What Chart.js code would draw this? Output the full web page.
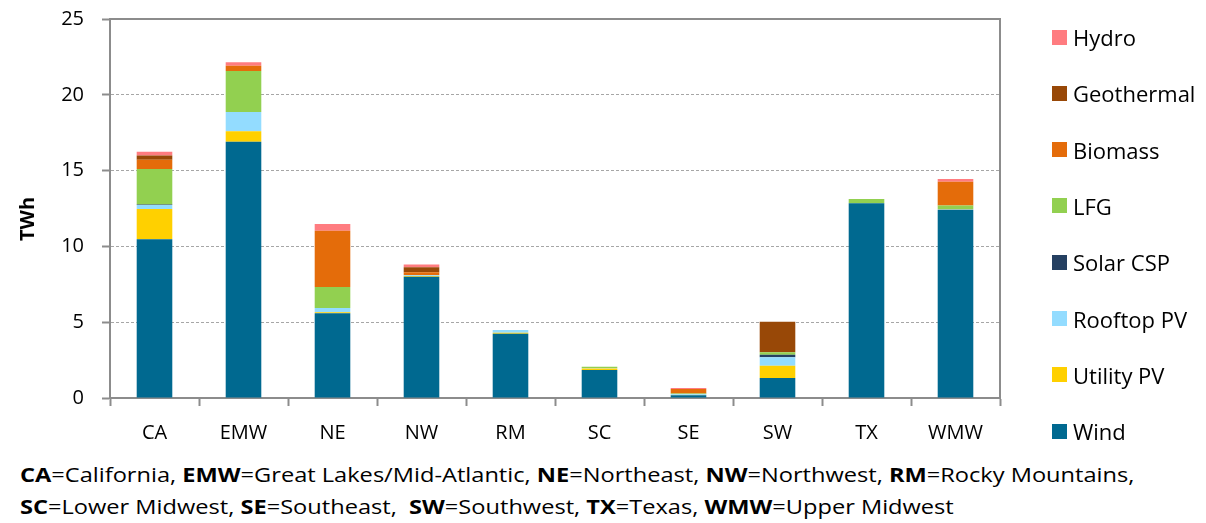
<!DOCTYPE html>
<html><head><meta charset="utf-8">
<script src="https://cdn.jsdelivr.net/npm/chart.js@4.4.0/dist/chart.umd.min.js"></script>
<style>
html,body{margin:0;padding:0;background:#fff;}
#wrap{position:relative;width:1206px;height:523px;font-family:'Open Sans',sans-serif;color:#000;overflow:hidden;}
#cv{position:absolute;left:0;top:0;}
.li{position:absolute;left:1052px;white-space:nowrap;font-size:22px;line-height:30px;height:30px;display:flex;align-items:center;}
.sw{width:15px;height:15px;margin-right:6px;flex:none;}
.note{position:absolute;left:20px;font-size:20px;line-height:24px;white-space:nowrap;transform-origin:0 0;transform:scaleX(1.18);}
#ytitle{position:absolute;left:27px;top:219px;width:80px;height:24px;margin-left:-40px;margin-top:-12px;text-align:center;font-size:20px;line-height:24px;font-weight:bold;transform:rotate(-90deg);}
</style></head>
<body>
<div id="wrap">
<canvas id="cv" width="1206" height="455"></canvas>
<div id="ytitle">TWh</div>
<div id="legend"></div>
<div class="note" style="top:463px"><b>CA</b>=California, <b>EMW</b>=Great Lakes/Mid-Atlantic, <b>NE</b>=Northeast, <b>NW</b>=Northwest, <b>RM</b>=Rocky Mountains,</div>
<div class="note" style="top:495px"><b>SC</b>=Lower Midwest, <b>SE</b>=Southeast, &nbsp;<b>SW</b>=Southwest, <b>TX</b>=Texas, <b>WMW</b>=Upper Midwest</div>
</div>
<script>
const categories = ['CA','EMW','NE','NW','RM','SC','SE','SW','TX','WMW'];
const wind       = [10.47, 16.91, 5.59, 8.00, 4.24, 1.85, 0.18, 1.32, 12.84, 12.42];
const utilityPV  = [2.00, 0.68, 0.06, 0.04, 0.06, 0.10, 0.02, 0.81, 0.00, 0.02];
const rooftopPV  = [0.26, 1.28, 0.29, 0.05, 0.19, 0.03, 0.05, 0.55, 0.00, 0.03];
const solarCSP   = [0.03, 0.00, 0.00, 0.00, 0.00, 0.00, 0.00, 0.18, 0.00, 0.00];
const lfg        = [2.35, 2.70, 1.38, 0.03, 0.00, 0.08, 0.05, 0.15, 0.29, 0.22];
const biomass    = [0.60, 0.35, 3.72, 0.18, 0.00, 0.00, 0.29, 0.00, 0.00, 1.58];
const geothermal = [0.28, 0.00, 0.00, 0.33, 0.00, 0.00, 0.00, 2.02, 0.00, 0.00];
const hydro      = [0.25, 0.22, 0.44, 0.17, 0.00, 0.00, 0.07, 0.00, 0.00, 0.18];
const yTicks = [0, 5, 10, 15, 20, 25];

const series = [
  {label:'Wind', data:wind, color:'#006990'},
  {label:'Utility PV', data:utilityPV, color:'#FFD000'},
  {label:'Rooftop PV', data:rooftopPV, color:'#93DCFF'},
  {label:'Solar CSP', data:solarCSP, color:'#254061'},
  {label:'LFG', data:lfg, color:'#92D050'},
  {label:'Biomass', data:biomass, color:'#E46C0A'},
  {label:'Geothermal', data:geothermal, color:'#984807'},
  {label:'Hydro', data:hydro, color:'#FF7C80'}
];

// legend (top to bottom: Hydro ... Wind)
const lg = document.getElementById('legend');
const centers0 = 37, step = 56.3;
series.slice().reverse().forEach((s,i)=>{
  const d = document.createElement('div');
  d.className='li';
  d.style.top = (centers0 + i*step - 15) + 'px';
  d.innerHTML = '<span class="sw" style="background:'+s.color+'"></span><span>'+s.label+'</span>';
  lg.appendChild(d);
});

const frame = {id:'frame', afterDatasetsDraw(c){
  const {ctx, chartArea:a} = c;
  ctx.save(); ctx.strokeStyle='#8c8c8c'; ctx.lineWidth=2;
  ctx.beginPath(); ctx.moveTo(a.left, a.top); ctx.lineTo(a.right, a.top); ctx.lineTo(a.right, a.bottom); ctx.stroke();
  ctx.restore();
}};

new Chart(document.getElementById('cv'), {
  type:'bar',
  data:{labels:categories, datasets:series.map(s=>({label:s.label, data:s.data, backgroundColor:s.color, borderWidth:0, barPercentage:0.4, categoryPercentage:1}))},
  options:{
    responsive:false, animation:false,
    layout:{padding:{left:0,right:206,top:19,bottom:0}},
    plugins:{legend:{display:false}, tooltip:{enabled:false}},
    scales:{
      x:{stacked:true,
        grid:{offset:true, drawOnChartArea:false, drawTicks:true, tickLength:8, tickColor:'#8c8c8c', tickWidth:2},
        border:{color:'#8c8c8c', width:2},
        ticks:{color:'#000', font:{family:'Open Sans', size:20}, padding:15},
        afterFit:s=>{s.height=57; s.paddingLeft=0; s.paddingRight=0;}
      },
      y:{stacked:true, min:0, max:25,
        afterBuildTicks:s=>{s.ticks = yTicks.map(v=>({value:v}));},
        ticks:{color:'#000', font:{family:'Open Sans', size:20}, padding:18},
        grid:{color:'#a6a6a6', lineWidth:1, tickColor:'#8c8c8c', tickWidth:2, tickLength:8, tickBorderDash:[]},
        border:{color:'#8c8c8c', width:2, dash:[3,2]},
        title:{display:false},
        afterFit:s=>{s.width=110; s.paddingTop=0; s.paddingBottom=0;}
      }
    }
  },
  plugins:[frame]
});
</script>
</body></html>
